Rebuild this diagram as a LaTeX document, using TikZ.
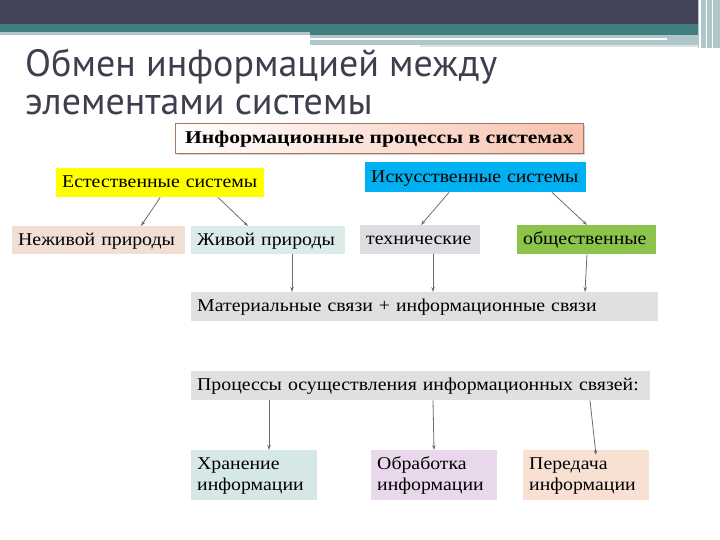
\documentclass[tikz,border=0pt]{standalone}
\usepackage{fontspec}
\setmainfont[FakeStretch=1.1]{Liberation Serif}
\newfontfamily\boldwide[FakeStretch=1.2]{Liberation Serif}
\newfontfamily\titlefont{PT Sans}
\usetikzlibrary{arrows.meta,shadows}
\definecolor{darkbar}{HTML}{43435A}
\definecolor{tealbar}{HTML}{437F7F}
\definecolor{lightbar}{HTML}{AEC6CA}
\definecolor{titlegray}{HTML}{3E3E4E}
\definecolor{salmon}{HTML}{F7C1AE}
\definecolor{brownedge}{HTML}{A07A62}
\definecolor{yelbox}{HTML}{FFFF00}
\definecolor{cyanbox}{HTML}{00B0F0}
\definecolor{nezhbox}{HTML}{F2DFD4}
\definecolor{zhivbox}{HTML}{DBEBEA}
\definecolor{techbox}{HTML}{DCDCE1}
\definecolor{obshbox}{HTML}{8CC34A}
\definecolor{graybox}{HTML}{E0E0E0}
\definecolor{hranbox}{HTML}{D5E8E6}
\definecolor{obrbox}{HTML}{E9D8EC}
\definecolor{perbox}{HTML}{F8E1D2}
\definecolor{arrgray}{HTML}{6B6B80}
\tikzset{
  box/.style={anchor=north west, inner xsep=6pt, inner ysep=0pt, align=left,
    font=\fontsize{18}{21}\selectfont, text=black},
  oneline/.style={text height=13.5pt, text depth=3pt},
  twoline/.style={minimum height=50pt, text width=114pt, text height=13.5pt, text depth=24pt},
  arr/.style={draw=arrgray, line width=0.8pt, -{Stealth[length=5pt,width=3.5pt]}}
}
\begin{document}
\begin{tikzpicture}[x=1pt,y=-1pt]
\useasboundingbox (0,0) rectangle (720,540);
% top decoration
\fill[darkbar] (0,0) rectangle (720,24);
\fill[tealbar] (0,24) rectangle (698,32);
\fill[lightbar] (0,32) rectangle (310,35);
\fill[tealbar] (310,32) rectangle (698,35);
\fill[lightbar] (310,35) rectangle (698,45);
\fill[white] (310,38) rectangle (667,40);
\fill[lightbar!50] (420,45) rectangle (698,47);
\fill[lightbar] (698,0) rectangle (720,48);
\fill[white] (699,0) rectangle (700.5,48);
\fill[white] (706,0) rectangle (707,48);
\fill[white] (712,0) rectangle (713,48);
% title
\node[anchor=base west, inner sep=0, text=titlegray, font=\titlefont\fontsize{38}{38}\selectfont] (t1) at (25,77) {Обмен информацией между};
\node[anchor=base west, inner sep=0, text=titlegray, font=\titlefont\fontsize{38}{38}\selectfont] (t2) at (25,115) {элементами системы};
% boxes
\node[anchor=north west, inner sep=0pt, text height=13.5pt, text depth=3pt,
  minimum height=30pt, minimum width=408pt, draw=brownedge, line width=0.8pt,
  left color=white, right color=salmon, drop shadow={shadow xshift=2pt, shadow yshift=-2pt, opacity=0.35},
  font=\boldwide\bfseries\fontsize{18}{21}\selectfont] (info) at (175,123) {Информационные процессы в системах};
\node[box, oneline, fill=yelbox, minimum height=29pt, text width=196pt] (est) at (56,168) {Естественные системы};
\node[box, oneline, fill=cyanbox, minimum height=30pt, text width=209pt] (isk) at (365,162) {Искусственные системы};
\node[box, oneline, fill=nezhbox, minimum height=28pt, text width=161pt] (nezh) at (12,226) {Неживой природы};
\node[box, oneline, fill=zhivbox, minimum height=28pt, text width=142pt] (zhiv) at (191,226) {Живой природы};
\node[box, oneline, fill=techbox, minimum height=29pt, text width=108pt] (tech) at (360,225) {технические};
\node[box, oneline, fill=obshbox, minimum height=29pt, text width=127pt] (obsh) at (517,225) {общественные};
\node[box, oneline, fill=graybox, minimum height=29pt, text width=455pt] (mat) at (191,292) {Материальные связи + информационные связи};
\node[box, oneline, fill=graybox, minimum height=29pt, text width=447pt] (proc) at (191,371) {Процессы осуществления информационных связей:};
\node[box, twoline, fill=hranbox] (hran) at (191,450) {Хранение\\информации};
\node[box, twoline, fill=obrbox] (obr) at (371,450) {Обработка\\информации};
\node[box, twoline, fill=perbox] (per) at (523,450) {Передача\\информации};
% connectors
\draw[arr] (est.south) -- ([xshift=129pt]nezh.north west);
\draw[arr] ([xshift=162pt]est.south west) -- ([xshift=57pt]zhiv.north west);
\draw[arr] ([xshift=84pt]isk.south west) -- ([xshift=61pt]tech.north west);
\draw[arr] ([xshift=187pt]isk.south west) -- ([xshift=70pt]obsh.north west);
\draw[arr] ([xshift=101pt]zhiv.south west) -- ([xshift=101pt]mat.north west);
\draw[arr] ([xshift=73pt]tech.south west) -- ([xshift=242pt]mat.north west);
\draw[arr] ([xshift=70pt]obsh.south west) -- ([xshift=394pt]mat.north west);
\draw[arr] ([xshift=78pt]proc.south west) -- ([xshift=78pt]hran.north west);
\draw[arr] ([xshift=242pt]proc.south west) -- ([xshift=63pt]obr.north west);
\draw[arr] ([xshift=399pt]proc.south west) -- ([xshift=73pt,yshift=-5pt]per.north west);
\end{tikzpicture}
\end{document}
